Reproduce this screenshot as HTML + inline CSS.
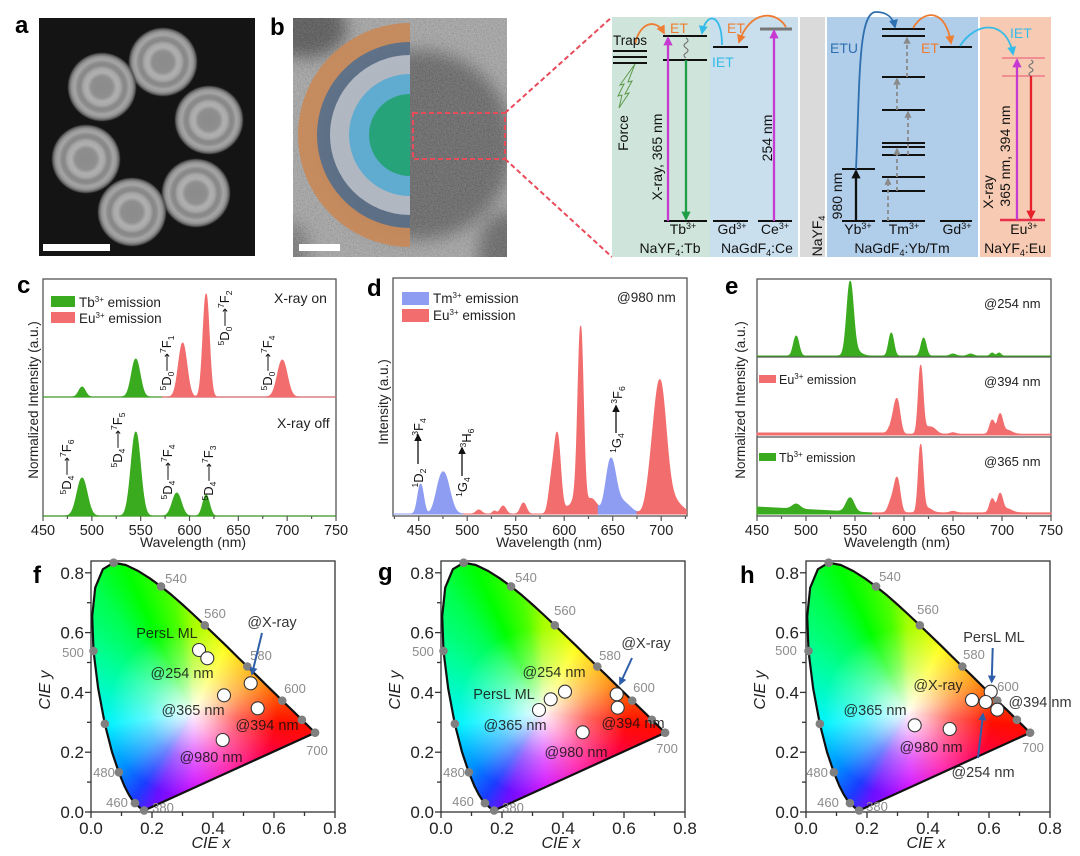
<!DOCTYPE html>
<html><head><meta charset="utf-8">
<style>
html,body{margin:0;padding:0;background:#fff;}
body{width:1080px;height:856px;position:relative;overflow:hidden;font-family:"Liberation Sans",Arial,sans-serif;}
#main{position:absolute;left:0;top:0;}
</style></head><body>
<svg id="main" width="1080" height="856" viewBox="0 0 1080 856" font-family="'Liberation Sans', Arial, sans-serif">
<defs>
 <radialGradient id="np" cx="50%" cy="50%" r="50%">
  <stop offset="0" stop-color="#8b8b8b"/><stop offset="0.3" stop-color="#8e8e8e"/>
  <stop offset="0.42" stop-color="#b0b0b0"/><stop offset="0.52" stop-color="#a9a9a9"/>
  <stop offset="0.62" stop-color="#878787"/><stop offset="0.7" stop-color="#8c8c8c"/>
  <stop offset="0.78" stop-color="#a6a6a6"/><stop offset="0.87" stop-color="#959595"/>
  <stop offset="0.95" stop-color="#5a5a5a"/><stop offset="1" stop-color="#303030" stop-opacity="0"/>
 </radialGradient>
 <filter id="blur8" x="-50%" y="-50%" width="200%" height="200%"><feGaussianBlur stdDeviation="8"/></filter>
 <filter id="noise" x="0" y="0" width="1" height="1">
  <feTurbulence type="fractalNoise" baseFrequency="0.75" numOctaves="2" seed="4"/>
  <feColorMatrix type="matrix" values="1 0 0 0 0  1 0 0 0 0  1 0 0 0 0  0 0 0 0 0.32"/>
 </filter>
 <clipPath id="cb"><rect x="293" y="18" width="214" height="239"/></clipPath>
 <clipPath id="cd"><rect x="393" y="278" width="294" height="238"/></clipPath>
 <marker id="mOr" viewBox="0 0 10 10" refX="8" refY="5" markerWidth="5" markerHeight="5" orient="auto"><path d="M0,0 L10,5 L0,10 z" fill="#ee7d31"/></marker>
 <marker id="mCy" viewBox="0 0 10 10" refX="8" refY="5" markerWidth="5" markerHeight="5" orient="auto"><path d="M0,0 L10,5 L0,10 z" fill="#35bbe8"/></marker>
 <marker id="mBl" viewBox="0 0 10 10" refX="8" refY="5" markerWidth="5" markerHeight="5" orient="auto"><path d="M0,0 L10,5 L0,10 z" fill="#2e6fb0"/></marker>
 <marker id="mMg" viewBox="0 0 10 10" refX="8" refY="5" markerWidth="4" markerHeight="4" orient="auto"><path d="M0,0 L10,5 L0,10 z" fill="#c63ad2"/></marker>
 <marker id="mGr" viewBox="0 0 10 10" refX="8" refY="5" markerWidth="4" markerHeight="4" orient="auto"><path d="M0,0 L10,5 L0,10 z" fill="#1f9e48"/></marker>
 <marker id="mRd" viewBox="0 0 10 10" refX="8" refY="5" markerWidth="4" markerHeight="4" orient="auto"><path d="M0,0 L10,5 L0,10 z" fill="#e8202a"/></marker>
 <marker id="mBk" viewBox="0 0 10 10" refX="8" refY="5" markerWidth="4" markerHeight="4" orient="auto"><path d="M0,0 L10,5 L0,10 z" fill="#111"/></marker>
 <marker id="mGy" viewBox="0 0 10 10" refX="8" refY="5" markerWidth="4" markerHeight="4" orient="auto"><path d="M0,0 L10,5 L0,10 z" fill="#8a8a8a"/></marker>
 <marker id="mAr" viewBox="0 0 10 10" refX="8" refY="5" markerWidth="4" markerHeight="4" orient="auto"><path d="M0,0 L10,5 L0,10 z" fill="#2f5ea8"/></marker>
 <marker id="mK2" viewBox="0 0 10 10" refX="8" refY="5" markerWidth="6" markerHeight="6" orient="auto"><path d="M0,0 L10,5 L0,10 z" fill="#111"/></marker>
</defs>

<!-- panel letters -->
<g font-weight="bold" font-size="24" fill="#000">
 <text x="15" y="33">a</text><text x="270" y="35">b</text>
 <text x="17" y="293">c</text><text x="367" y="296">d</text><text x="725" y="294">e</text>
 <text x="33" y="583">f</text><text x="378" y="580">g</text><text x="740" y="583">h</text>
</g>

<!-- panel a -->
<rect x="39" y="18" width="216" height="238" fill="#141414"/>
<g fill="url(#np)">
 <circle cx="163" cy="62" r="35"/><circle cx="102" cy="87" r="35"/><circle cx="209" cy="120" r="35"/>
 <circle cx="86" cy="159" r="35"/><circle cx="196" cy="193" r="35"/><circle cx="132" cy="212" r="35"/>
</g>
<rect x="43" y="244" width="67" height="7" fill="#fff"/>

<!-- panel b -->
<g clip-path="url(#cb)">
 <rect x="293" y="18" width="214" height="239" fill="#9c9c9c"/>
 <g filter="url(#blur8)">
  <ellipse cx="305" cy="28" rx="42" ry="30" fill="#3a3a3a"/>
  <circle cx="418" cy="145" r="95" fill="#4f4f4f"/>
  <ellipse cx="508" cy="252" rx="30" ry="40" fill="#505050"/>
  <ellipse cx="292" cy="252" rx="18" ry="30" fill="#666"/>
 </g>
 <rect x="293" y="18" width="214" height="239" filter="url(#noise)"/>
 <g opacity="0.93">
  <path d="M410,23 A112,112 0 0 0 410,247 Z" fill="#c88a5a"/>
  <path d="M410,42 A93,93 0 0 0 410,228 Z" fill="#5b6f87"/>
  <path d="M410,55 A80,80 0 0 0 410,215 Z" fill="#b6bdc8"/>
  <path d="M410,74 A61,61 0 0 0 410,196 Z" fill="#5fb1d8"/>
  <path d="M410,94 A41,41 0 0 0 410,176 Z" fill="#22a77b"/>
 </g>
 <rect x="413" y="113" width="92" height="46" fill="none" stroke="#e84b5a" stroke-width="2" stroke-dasharray="5 3"/>
 <rect x="299" y="244" width="41" height="7" fill="#fff"/>
</g>
<line x1="505" y1="113" x2="612" y2="17" stroke="#e84b5a" stroke-width="2" stroke-dasharray="5 3"/>
<line x1="505" y1="159" x2="612" y2="257" stroke="#e84b5a" stroke-width="2" stroke-dasharray="5 3"/>

<!-- energy diagram -->
<rect x="612" y="17" width="98" height="240" fill="#cfe5dc"/>
<rect x="710" y="17" width="88" height="240" fill="#cadfee"/>
<rect x="800" y="17" width="25" height="240" fill="#dadada"/>
<rect x="827" y="17" width="151" height="240" fill="#b0cdea"/>
<rect x="980" y="17" width="71" height="240" fill="#f7cbb3"/>
<g stroke="#111" stroke-width="2">
 <line x1="613" y1="51" x2="647" y2="51"/><line x1="613" y1="57" x2="647" y2="57"/><line x1="613" y1="63" x2="647" y2="63"/>
 <line x1="663" y1="36" x2="707" y2="36"/><line x1="663" y1="60" x2="707" y2="60"/><line x1="664" y1="221" x2="707" y2="221"/>
 <line x1="713" y1="47" x2="748" y2="47"/><line x1="713" y1="221" x2="748" y2="221"/>
 <line x1="758" y1="221" x2="792" y2="221"/>
 <line x1="842" y1="169" x2="875" y2="169"/><line x1="842" y1="221" x2="875" y2="221"/>
 <line x1="882" y1="29" x2="925" y2="29"/><line x1="882" y1="36" x2="925" y2="36"/><line x1="882" y1="77" x2="925" y2="77"/>
 <line x1="882" y1="110" x2="925" y2="110"/><line x1="882" y1="143" x2="925" y2="143"/><line x1="882" y1="147" x2="925" y2="147"/>
 <line x1="882" y1="155" x2="925" y2="155"/><line x1="882" y1="177" x2="925" y2="177"/><line x1="882" y1="191" x2="925" y2="191"/>
 <line x1="882" y1="221" x2="925" y2="221"/>
 <line x1="940" y1="47" x2="972" y2="47"/><line x1="940" y1="221" x2="972" y2="221"/>
</g>
<line x1="760" y1="29" x2="792" y2="29" stroke="#777" stroke-width="3"/>
<line x1="1002" y1="58" x2="1045" y2="58" stroke="#ef7a8a" stroke-width="1.5"/>
<line x1="1002" y1="76" x2="1045" y2="76" stroke="#ef7a8a" stroke-width="1.5"/>
<line x1="1000" y1="220" x2="1045" y2="220" stroke="#e8304a" stroke-width="2.5"/>
<polygon points="635,64 628,82 632,81 625,94 629,93 619,108 622,95 618,96 624,84 620,85" fill="none" stroke="#5d9a4a" stroke-width="1"/>
<g stroke-width="2.3" fill="none">
 <line x1="668" y1="221" x2="668" y2="38" stroke="#c63ad2" marker-end="url(#mMg)"/>
 <line x1="686" y1="60" x2="686" y2="219" stroke="#1f9e48" marker-end="url(#mGr)"/>
 <line x1="774" y1="221" x2="774" y2="31" stroke="#c63ad2" marker-end="url(#mMg)"/>
 <line x1="856" y1="221" x2="856" y2="171" stroke="#111" marker-end="url(#mBk)"/>
 <line x1="1017" y1="220" x2="1017" y2="60" stroke="#c63ad2" marker-end="url(#mMg)"/>
 <line x1="1031" y1="76" x2="1031" y2="218" stroke="#e8202a" marker-end="url(#mRd)"/>
</g>
<g stroke="#8a8a8a" stroke-width="1.8" stroke-dasharray="4 3" fill="none">
 <line x1="888" y1="221" x2="888" y2="179" marker-end="url(#mGy)"/>
 <line x1="897" y1="191" x2="897" y2="149" marker-end="url(#mGy)"/>
 <line x1="908" y1="155" x2="908" y2="112" marker-end="url(#mGy)"/>
 <line x1="897" y1="110" x2="897" y2="79" marker-end="url(#mGy)"/>
 <line x1="907" y1="77" x2="907" y2="38" marker-end="url(#mGy)"/>
</g>
<path d="M686,38 q4,2.5 0,5 q-4,2.5 0,5 q4,2.5 0,5 q-4,2.5 0,5" stroke="#777" stroke-width="1.2" fill="none"/>
<path d="M1031,60 q4,2 0,4 q-4,2 0,4 q4,2 0,4 q-4,2 0,4" stroke="#777" stroke-width="1.2" fill="none"/>
<g fill="none" stroke-width="1.8">
 <path d="M635,44 C640,22 656,18 664,33" stroke="#ee7d31" marker-end="url(#mOr)"/>
 <path d="M722,45 C722,12 706,12 702,33" stroke="#35bbe8" marker-end="url(#mCy)"/>
 <path d="M786,27 C776,10 750,10 739,42" stroke="#ee7d31" marker-end="url(#mOr)"/>
 <path d="M856,169 C860,80 858,12 876,12 C888,12 893,18 895,27" stroke="#2e6fb0" marker-end="url(#mBl)"/>
 <path d="M913,28 C925,8 946,10 951,43" stroke="#ee7d31" marker-end="url(#mOr)"/>
 <path d="M960,46 C975,22 1006,18 1013,54" stroke="#35bbe8" marker-end="url(#mCy)"/>
</g>
<g font-size="14" fill="#111">
 <text x="613" y="45" font-size="13.5">Traps</text>
 <text x="670" y="33" fill="#ee7d31">ET</text>
 <text x="727" y="33" fill="#ee7d31">ET</text>
 <text x="712" y="67" fill="#35bbe8">IET</text>
 <text x="830" y="53" fill="#2e6fb0">ETU</text>
 <text x="921" y="53" fill="#ee7d31">ET</text>
 <text x="1010" y="38" fill="#35bbe8">IET</text>
 <text transform="translate(628,133) rotate(-90)" text-anchor="middle">Force</text>
 <text transform="translate(662,157) rotate(-90)" text-anchor="middle">X-ray,  365 nm</text>
 <text transform="translate(772,138) rotate(-90)" text-anchor="middle">254 nm</text>
 <text transform="translate(842,196) rotate(-90)" text-anchor="middle">980 nm</text>
 <text transform="translate(993,192) rotate(-90)" text-anchor="middle">X-ray</text>
 <text transform="translate(1010,156) rotate(-90)" text-anchor="middle">365 nm, 394 nm</text>
 <text transform="translate(822,236) rotate(-90)" text-anchor="middle">NaYF<tspan font-size="9" dy="3">4</tspan></text>
 <g text-anchor="middle">
  <text x="683" y="234">Tb<tspan font-size="9" dy="-5">3+</tspan></text>
  <text x="732" y="234">Gd<tspan font-size="9" dy="-5">3+</tspan></text>
  <text x="775" y="234">Ce<tspan font-size="9" dy="-5">3+</tspan></text>
  <text x="858" y="234">Yb<tspan font-size="9" dy="-5">3+</tspan></text>
  <text x="904" y="234">Tm<tspan font-size="9" dy="-5">3+</tspan></text>
  <text x="957" y="234">Gd<tspan font-size="9" dy="-5">3+</tspan></text>
  <text x="1024" y="234">Eu<tspan font-size="9" dy="-5">3+</tspan></text>
  <text x="670" y="253">NaYF<tspan font-size="9" dy="3">4</tspan><tspan dy="-3">:Tb</tspan></text>
  <text x="757" y="253">NaGdF<tspan font-size="9" dy="3">4</tspan><tspan dy="-3">:Ce</tspan></text>
  <text x="902" y="253">NaGdF<tspan font-size="9" dy="3">4</tspan><tspan dy="-3">:Yb/Tm</tspan></text>
  <text x="1015" y="253">NaYF<tspan font-size="9" dy="3">4</tspan><tspan dy="-3">:Eu</tspan></text>
 </g>
</g>

<!-- spectra frames -->
<g fill="none" stroke="#555" stroke-width="1.3">
 <rect x="43" y="279" width="293" height="237"/>
 <line x1="43" y1="397" x2="336" y2="397"/>
 <rect x="393" y="278" width="294" height="238"/>
 <rect x="757" y="279" width="294" height="237"/>
 <line x1="757" y1="357" x2="1051" y2="357"/>
 <line x1="757" y1="437" x2="1051" y2="437"/>
</g>
<g id="gen"></g>

<!-- spectra texts -->
<g font-size="13.5" fill="#222">
 <rect x="51" y="296" width="24" height="11" fill="#3aaa1e"/>
 <rect x="51" y="312" width="24" height="11" fill="#f26d6d"/>
 <text x="79" y="307">Tb<tspan font-size="8" dy="-5">3+</tspan><tspan dy="5"> emission</tspan></text>
 <text x="79" y="323">Eu<tspan font-size="8" dy="-5">3+</tspan><tspan dy="5"> emission</tspan></text>
 <text x="274" y="303" font-size="14">X-ray on</text>
 <text x="277" y="428" font-size="14">X-ray off</text>
 <rect x="402" y="292" width="27" height="13" fill="#8e9df2"/>
 <rect x="402" y="309" width="27" height="13" fill="#f26d6d"/>
 <text x="433" y="303">Tm<tspan font-size="8" dy="-5">3+</tspan><tspan dy="5"> emission</tspan></text>
 <text x="433" y="320">Eu<tspan font-size="8" dy="-5">3+</tspan><tspan dy="5"> emission</tspan></text>
 <text x="617" y="302">@980 nm</text>
 <rect x="759" y="375" width="17" height="8" fill="#f26d6d"/>
 <text x="779" y="384" font-size="12.5">Eu<tspan font-size="8" dy="-5">3+</tspan><tspan dy="5"> emission</tspan></text>
 <rect x="759" y="453" width="17" height="8" fill="#3aaa1e"/>
 <text x="779" y="462" font-size="12.5">Tb<tspan font-size="8" dy="-5">3+</tspan><tspan dy="5"> emission</tspan></text>
 <text x="984" y="308" font-size="13">@254 nm</text>
 <text x="984" y="386" font-size="13">@394 nm</text>
 <text x="984" y="466" font-size="13">@365 nm</text>
 <text transform="translate(38,400) rotate(-90)" text-anchor="middle">Normalized Intensity (a.u.)</text>
 <text transform="translate(388,402) rotate(-90)" text-anchor="middle">Intensity (a.u.)</text>
 <text transform="translate(745,400) rotate(-90)" text-anchor="middle">Normalized Intensity (a.u.)</text>
 <text x="193" y="547" text-anchor="middle" font-size="14">Wavelength (nm)</text>
 <text x="549" y="547" text-anchor="middle" font-size="14">Wavelength (nm)</text>
 <text x="897" y="547" text-anchor="middle" font-size="14">Wavelength (nm)</text>
</g>
<g id="gen2"></g>
</svg>
<script>
(function(){
const NS='http://www.w3.org/2000/svg';
const main=document.getElementById('main');
const layer=document.getElementById('gen');
const layer2=document.getElementById('gen2');
function el(tag,a,p){const e=document.createElementNS(NS,tag);for(const k in a)e.setAttribute(k,a[k]);(p||layer).appendChild(e);return e;}
function G(pk,ped){return function(nm){let s=ped?ped(nm):0;for(const p of pk){const z=(nm-p[0])/p[2];s+=p[1]*Math.exp(-0.5*z*z);}return s;};}
function area(fn,a,b,xm,base,col,par){let d='M'+xm(a).toFixed(2)+','+base;for(let nm=a;nm<=b+1e-6;nm+=0.25){d+='L'+xm(nm).toFixed(2)+','+(base-fn(nm)).toFixed(2);}d+='L'+xm(b).toFixed(2)+','+base+'Z';el('path',{d:d,fill:col,stroke:col,'stroke-width':'0.9','stroke-linejoin':'round'},par);}
const GR='#3aaa1e',RD='#f26d6d',BL='#8e9df2';
const cx=nm=>43+(nm-450)*0.9767, dxm=nm=>418.7+(nm-450)*0.97, ex=nm=>757+(nm-450)*0.98;
area(G([[490,10,3.4],[545,38,4.4]]),450,572,cx,397,GR);
area(G([[593,54,4.3],[617,103,3.2],[695,37,5]]),572,750,cx,397,RD);
area(G([[490,38,5.2],[545,84,4.8],[587,23,4.6],[617,21,3.4]]),450,750,cx,516,GR);
const gd=el('g',{'clip-path':'url(#cd)'});
const fd=G([[452,30,3],[476,40,6],[470,6,4],[512,4,3],[528,3,2],[537,8,3],[558,11,3],[587,30,3],[593,77,3.2],[603,6,4],[612,15,4],[617,180,2.8],[626,12,4],[632,8,4],[648,52,5],[660,12,8],[690,30,5],[699,120,6],[710,15,10]]);
area(fd,423,496,dxm,514,BL,gd);
area(fd,496,635,dxm,514,RD,gd);
area(fd,635,675,dxm,514,BL,gd);
area(fd,675,730,dxm,514,RD,gd);
area(G([[490,20,2.8],[545,70,3.3],[549,6,6],[587,23,2.6],[620,18,2.6],[650,2,3],[668,2,3],[690,3,2],[697,3,2]]),450,750,ex,356,GR);
const pedM=nm=>nm<585?2:0.8;
area(G([[588,10,3],[593,33,3],[617,66,2.3],[623,6,5],[630,4,4],[650,1.5,3],[690,14,2.6],[698,19,2.6],[705,4,5]],pedM),450,750,ex,435,RD);
const pedG=nm=>Math.max(1,7-(nm-450)*0.05);
area(G([[490,5,4],[545,14,4]],pedG),450,568,ex,514,GR);
area(G([[587,11,3],[593,34,3],[617,66,2.3],[623,5,5],[650,1.5,3],[690,14,2.6],[698,18,2.6],[705,4,5]],nm=>1.2),568,750,ex,514,RD);
function xaxis(xm,y,a,b,lo,hi){for(let nm=a;nm<=b;nm+=25){const M=(nm%50===0);el('line',{x1:xm(nm),x2:xm(nm),y1:y,y2:y+(M?5:3),stroke:'#555','stroke-width':1.2},layer2);if(M&&nm>=lo&&nm<=hi){const t=el('text',{x:xm(nm),y:y+19,'text-anchor':'middle','font-size':14.5,fill:'#222'},layer2);t.textContent=nm;}}}
xaxis(cx,516,450,750,450,750);xaxis(dxm,516,425,725,450,700);xaxis(ex,516,450,750,450,750);
function rlab(x,y,parts,fs){const t=el('text',{transform:'translate('+x+','+y+') rotate(-90)','text-anchor':'middle','font-size':fs,fill:'#111'},layer2);let cur=0;for(const pr of parts){const s=pr[0],ty=pr[1];const tg=ty==='sup'?-5:ty==='sub'?3:0;const sp=el('tspan',{dy:tg-cur},t);if(ty!=='n')sp.setAttribute('font-size',fs*0.66);sp.textContent=s;cur=tg;}}
function tr(x,y,a,A,b,c,C,d2,arrow){rlab(x,y,[[a,'sup'],[A,'n'],[b,'sub'],[arrow||'\u27F6','n'],[c,'sup'],[C,'n'],[d2,'sub']],13);}
tr(171,363,'5','D','0','7','F','1');tr(229,318,'5','D','0','7','F','2');tr(272,363,'5','D','0','7','F','4');
tr(71,467,'5','D','4','7','F','6');tr(122,440,'5','D','4','7','F','5');tr(172,472,'5','D','4','7','F','4');tr(213,473,'5','D','4','7','F','3');
function term(x,y,a,A,b){rlab(x,y,[[a,'sup'],[A,'n'],[b,'sub']],13);}
term(423,478,'1','D','2');term(423,427,'3','F','4');
el('line',{x1:418,y1:464,x2:418,y2:435,stroke:'#111','stroke-width':1.3,'marker-end':'url(#mK2)'},layer2);
term(467,487,'1','G','4');term(471,438,'3','H','6');
el('line',{x1:462,y1:476,x2:462,y2:448,stroke:'#111','stroke-width':1.3,'marker-end':'url(#mK2)'},layer2);
term(621,443,'1','G','4');term(622,395,'3','F','6');
el('line',{x1:616,y1:433,x2:616,y2:406,stroke:'#111','stroke-width':1.3,'marker-end':'url(#mK2)'},layer2);

const L=[[380,.1741,.0050],[400,.1733,.0048],[420,.1714,.0051],[430,.1689,.0069],[440,.1644,.0109],[450,.1566,.0177],[455,.1510,.0227],[460,.1440,.0297],[465,.1355,.0399],[470,.1241,.0578],[475,.1096,.0868],[480,.0913,.1327],[485,.0687,.2007],[490,.0454,.2950],[495,.0235,.4127],[500,.0082,.5384],[505,.0039,.6548],[510,.0139,.7502],[515,.0389,.8120],[520,.0743,.8338],[525,.1142,.8262],[530,.1547,.8059],[535,.1929,.7816],[540,.2296,.7543],[545,.2658,.7243],[550,.3016,.6923],[555,.3373,.6589],[560,.3731,.6245],[565,.4087,.5896],[570,.4441,.5547],[575,.4788,.5202],[580,.5125,.4866],[585,.5448,.4544],[590,.5752,.4242],[595,.6029,.3965],[600,.6270,.3725],[610,.6658,.3340],[620,.6915,.3083],[630,.7079,.2920],[640,.7190,.2809],[650,.7260,.2740],[660,.7300,.2700],[680,.7334,.2666],[700,.7347,.2653]];
const dots=[380,460,480,490,500,520,540,560,580,600,620,700];
function cie(c){
 const x0=c.x0,y0=812,sx=305,sy=299,top=561,right=c.x0+244;
 const H=y0-top,W=right-x0;
 const div=document.createElement('div');
 div.style.cssText='position:absolute;left:'+x0+'px;top:'+top+'px;width:'+W+'px;height:'+H+'px;';
 const wx=(0.333*sx).toFixed(1),wy=(H-0.333*sy).toFixed(1);
 div.style.background='radial-gradient(circle at '+wx+'px '+wy+'px, rgba(255,255,255,0.97) 0px, rgba(255,255,255,0.75) 18px, rgba(255,255,255,0.38) 45px, rgba(255,255,255,0) 85px), conic-gradient(from 0deg at '+wx+'px '+wy+'px, #a4ff00 0deg, #ffff00 27deg, #ffc400 47deg, #ff8a00 66deg, #ff4a00 82deg, #ff0d00 97deg, #ff0040 118deg, #ff00a0 148deg, #d000ff 178deg, #6a10ff 203deg, #1a3cff 214deg, #0090ff 232deg, #00f4ff 262deg, #00ff9a 300deg, #00ff50 322deg, #00ff00 335deg, #4cff00 350deg, #a4ff00 360deg)';
 let d='';L.forEach((p,i)=>{d+=(i?'L':'M')+(p[1]*sx).toFixed(1)+' '+(H-p[2]*sy).toFixed(1)+' ';});d+='Z';
 div.style.clipPath="path('"+d+"')";
 document.body.insertBefore(div,main);
 const g=el('g',{},layer2);
 el('rect',{x:x0,y:top,width:W,height:H,fill:'none',stroke:'#333','stroke-width':1.3},g);
 let pd='';L.forEach((p,i)=>{pd+=(i?'L':'M')+(x0+p[1]*sx).toFixed(1)+','+(y0-p[2]*sy).toFixed(1);});pd+='Z';
 el('path',{d:pd,fill:'none',stroke:'#111','stroke-width':2.2,'stroke-linejoin':'round'},g);
 for(let i=0;i<=8;i++){const v=i/10,M=i%2===0;
  el('line',{x1:x0-(M?6:4),x2:x0,y1:y0-v*sy,y2:y0-v*sy,stroke:'#333','stroke-width':1.3},g);
  el('line',{x1:x0+v*sx,x2:x0+v*sx,y1:y0,y2:y0+(M?6:4),stroke:'#333','stroke-width':1.3},g);
  if(M){let t=el('text',{x:x0-7,y:y0-v*sy+6,'text-anchor':'end','font-size':17,fill:'#222'},g);t.textContent=v.toFixed(1);
   t=el('text',{x:x0+v*sx,y:y0+22,'text-anchor':'middle','font-size':17,fill:'#222'},g);t.textContent=v.toFixed(1);}}
 let t=el('text',{x:x0+120,y:848,'text-anchor':'middle','font-size':16,'font-style':'italic',fill:'#222'},g);t.textContent='CIE x';
 t=el('text',{transform:'translate('+(x0-41)+',690) rotate(-90)','text-anchor':'middle','font-size':16,'font-style':'italic',fill:'#222'},g);t.textContent='CIE y';
 c.wl.forEach(w=>{const tt=el('text',{x:w[1],y:w[2]+5,'text-anchor':'middle','font-size':13,fill:'#8c8c8c'},g);tt.textContent=w[0];});
 L.forEach(p=>{if(dots.indexOf(p[0])>=0)el('circle',{cx:x0+p[1]*sx,cy:y0-p[2]*sy,r:4.3,fill:'#808080'},g);});
 c.arrows.forEach(a=>el('line',{x1:a[0],y1:a[1],x2:a[2],y2:a[3],stroke:'#2f5ea8','stroke-width':2,'marker-end':'url(#mAr)'},g));
 c.pts.forEach(p=>el('circle',{cx:p[0],cy:p[1],r:6.5,fill:'#fff',stroke:'#333','stroke-width':1.1},g));
 c.txt.forEach(s=>{const tt=el('text',{x:s[1],y:s[2]+5,'text-anchor':'middle','font-size':14.5,fill:'#111','fill-opacity':0.85},g);tt.textContent=s[0];});
}
cie({x0:91,
 wl:[['540',176,578],['560',215,613],['580',261,655],['600',295,688],['700',317,750],['500',73,652],['480',104,772],['460',117,802],['380',163,807]],
 pts:[[199,650],[207.3,658.3],[250.7,683.3],[224,695.3],[257.7,708.3],[222.7,740]],
 txt:[['PersL ML',167,633],['@254 nm',182,673],['@365 nm',193,710],['@394 nm',267,725],['@980 nm',211,757],['@X-ray',272,622]],
 arrows:[[262,633,252,674]]});
cie({x0:441,
 wl:[['540',526,577],['560',565,610],['580',610,655],['600',644,687],['700',667,748],['500',423,651],['480',454,772],['460',463,801],['380',513,807]],
 pts:[[539,710],[550.7,699.3],[565,691.7],[616.7,694.3],[617.7,707.7],[582.7,732.3]],
 txt:[['@X-ray',646,643],['@254 nm',554,672],['PersL ML',504,694],['@365 nm',515,725],['@394 nm',633,723],['@980 nm',576,752]],
 arrows:[[632,658,620,684]]});
cie({x0:806,
 wl:[['540',890,576],['560',928,609],['580',974,654],['600',1008,686],['700',1033,747],['500',786,650],['480',817,772],['460',828,802],['380',877,806]],
 pts:[[990.7,691.7],[972,700],[985.7,702],[997.3,709.7],[914.7,725.3],[949.7,729]],
 txt:[['PersL ML',994,637],['@X-ray',938,685],['@394 nm',1040,702],['@365 nm',875,710],['@980 nm',931,747],['@254 nm',983,772]],
 arrows:[[992.7,648,991.7,682],[978,758,983,714]]});
})();
</script>
</body></html>
